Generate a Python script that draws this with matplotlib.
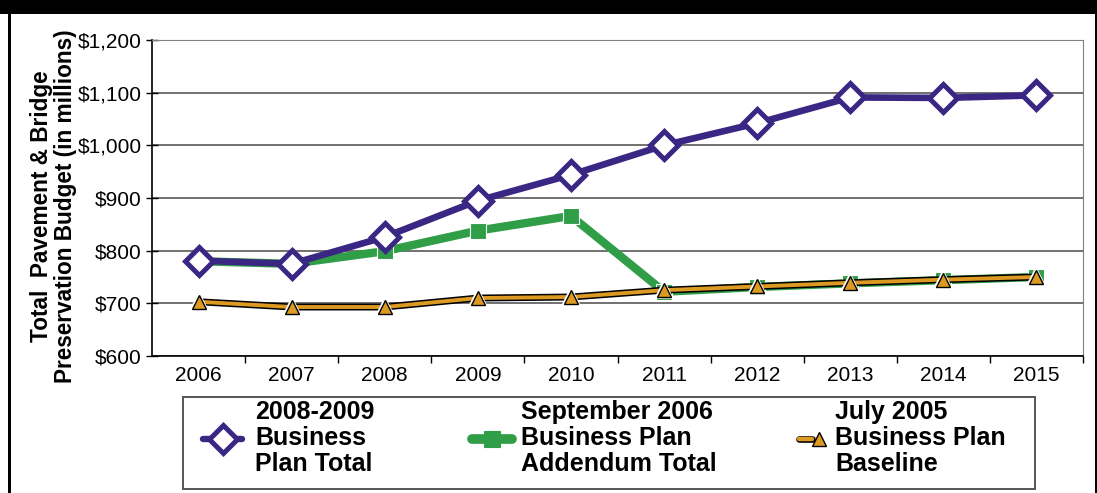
import matplotlib
matplotlib.use("Agg")
import matplotlib.pyplot as plt
from matplotlib.lines import Line2D
from matplotlib.patches import Rectangle
from matplotlib.legend_handler import HandlerTuple
import matplotlib.patheffects as pe

plt.rcParams['font.family'] = ['Liberation Sans', 'DejaVu Sans']

years = ['2006', '2007', '2008', '2009', '2010', '2011', '2012', '2013', '2014', '2015']
plan_2008_2009 = [781, 775, 826, 895, 944, 1000, 1042, 1091, 1090, 1095]
sept_2006_addendum = [780, 775, 799, 838, 866, 722, 731, 738, 744, 750]
july_2005_baseline = [703, 693, 693, 710, 712, 725, 732, 739, 745, 750]
y_ticks = [600, 700, 800, 900, 1000, 1100, 1200]
y_ticklabels = ['$600', '$700', '$800', '$900', '$1,000', '$1,100', '$1,200']
labels = ['2008-2009\nBusiness\nPlan Total',
          'September 2006\nBusiness Plan\nAddendum Total',
          'July 2005\nBusiness Plan\nBaseline']

PURPLE = '#3a2783'
GREEN = '#2f9e47'
ORANGE = '#dc9a22'

W, H = 1097, 493
fig = plt.figure(figsize=(W / 100, H / 100), dpi=100)

# frame decorations
fig.patches.append(Rectangle((0, 1 - 14 / H), 1, 14 / H, transform=fig.transFigure,
                             facecolor='black', edgecolor='none', zorder=0))
fig.patches.append(Rectangle((8 / W, 0), 2.5 / W, 1, transform=fig.transFigure,
                             facecolor='black', edgecolor='none', zorder=0))
fig.patches.append(Rectangle((1094.5 / W, 0), 2.5 / W, 1, transform=fig.transFigure,
                             facecolor='black', edgecolor='none', zorder=0))

ax = fig.add_axes([152 / W, 1 - 356 / H, (1083 - 152) / W, (356 - 40) / H])
x = list(range(len(years)))

ax.set_xlim(-0.5, len(years) - 0.5)
ax.set_ylim(600, 1200)
ax.set_yticks(y_ticks)
ax.set_yticklabels(y_ticklabels, fontsize=15)
ax.set_xticks(x)
ax.set_xticklabels(years, fontsize=15)
ax.tick_params(axis='x', length=0, pad=7)
ax.set_xticks([i - 0.5 for i in range(1, len(years) + 1)], minor=True)
ax.tick_params(axis='x', which='minor', length=5, width=1, direction='out', color='black')
ax.tick_params(axis='y', length=9, width=1, direction='inout', pad=3)
ax.yaxis.grid(True, color='#666666', linewidth=1.3)
ax.set_axisbelow(True)
for s in ['top', 'right']:
    ax.spines[s].set_color('#808080')
for s in ['left', 'bottom']:
    ax.spines[s].set_color('black')
    ax.spines[s].set_linewidth(1.2)

ax.set_ylabel('Total  Pavement & Bridge\nPreservation Budget (in millions)',
              fontsize=16.3, fontweight='bold', linespacing=1.05)
ax.yaxis.set_label_coords((77 - 152) / 931, (356 - 206) / 316)

# Green series
ax.plot(x, sept_2006_addendum, color=GREEN, lw=6, zorder=3,
        marker='s', ms=11, mfc=GREEN, mec='white', mew=0.8,
        solid_joinstyle='round')
# Orange series
ax.plot(x, july_2005_baseline, color='black', lw=5.0, zorder=4)
ax.plot(x, july_2005_baseline, color=ORANGE, lw=2.8, zorder=4.1)
ax.plot(x, july_2005_baseline, ls='none', marker='^', ms=10.5,
        mfc=ORANGE, mec='white', mew=2.6, zorder=4.2)
ax.plot(x, july_2005_baseline, ls='none', marker='^', ms=10.5,
        mfc=ORANGE, mec='black', mew=1.0, zorder=4.3)
# Purple series
ax.plot(x, plan_2008_2009, color=PURPLE, lw=4.8, zorder=5,
        marker='D', ms=14, mfc='white', mec=PURPLE, mew=3.6,
        solid_joinstyle='round')

# legend frame
fig.patches.append(Rectangle((183 / W, 1 - 489 / H), (1035 - 183) / W, (489 - 397) / H,
                             transform=fig.transFigure, facecolor='white',
                             edgecolor='#555555', linewidth=1.4, zorder=1))

h1 = Line2D([], [], color=PURPLE, lw=4.6, marker='D', ms=14, mfc='white',
            mec=PURPLE, mew=3.6, solid_capstyle='round')
h2 = Line2D([], [], color=GREEN, lw=7, marker='s', ms=11, mfc=GREEN,
            mec=GREEN, mew=0.8, solid_capstyle='round')
h3a = Line2D([], [], color=ORANGE, lw=3.2, solid_capstyle='round',
             path_effects=[pe.Stroke(linewidth=4.8, foreground='black'), pe.Normal()])
h3c = Line2D([], [], ls='none', marker='^', ms=10, mfc=ORANGE, mec='black', mew=1.0)

FS = 18
fs_px = FS * 100 / 72
entries = [
    (h1, labels[0], 203, 242, 255),
    (h2, labels[1], 472, 512, 521),
    ((h3a, h3c), labels[2], 799, 825, 835),
]
y_center = 1 - 438 / H
for handle, lab, hx0, hx1, tx in entries:
    leg = fig.legend([handle], [lab], loc='center left',
                     bbox_to_anchor=(hx0 / W, y_center),
                     prop={'size': FS, 'weight': 'bold'},
                     handler_map={tuple: HandlerTuple(ndivide=None)},
                     frameon=False, borderaxespad=0, borderpad=0,
                     handlelength=(hx1 - hx0) / fs_px,
                     handletextpad=(tx - hx1) / fs_px)
    leg.set_zorder(3)
    for t in leg.get_texts():
        t.set_linespacing(1.08)

fig.savefig('out.png', dpi=100)
